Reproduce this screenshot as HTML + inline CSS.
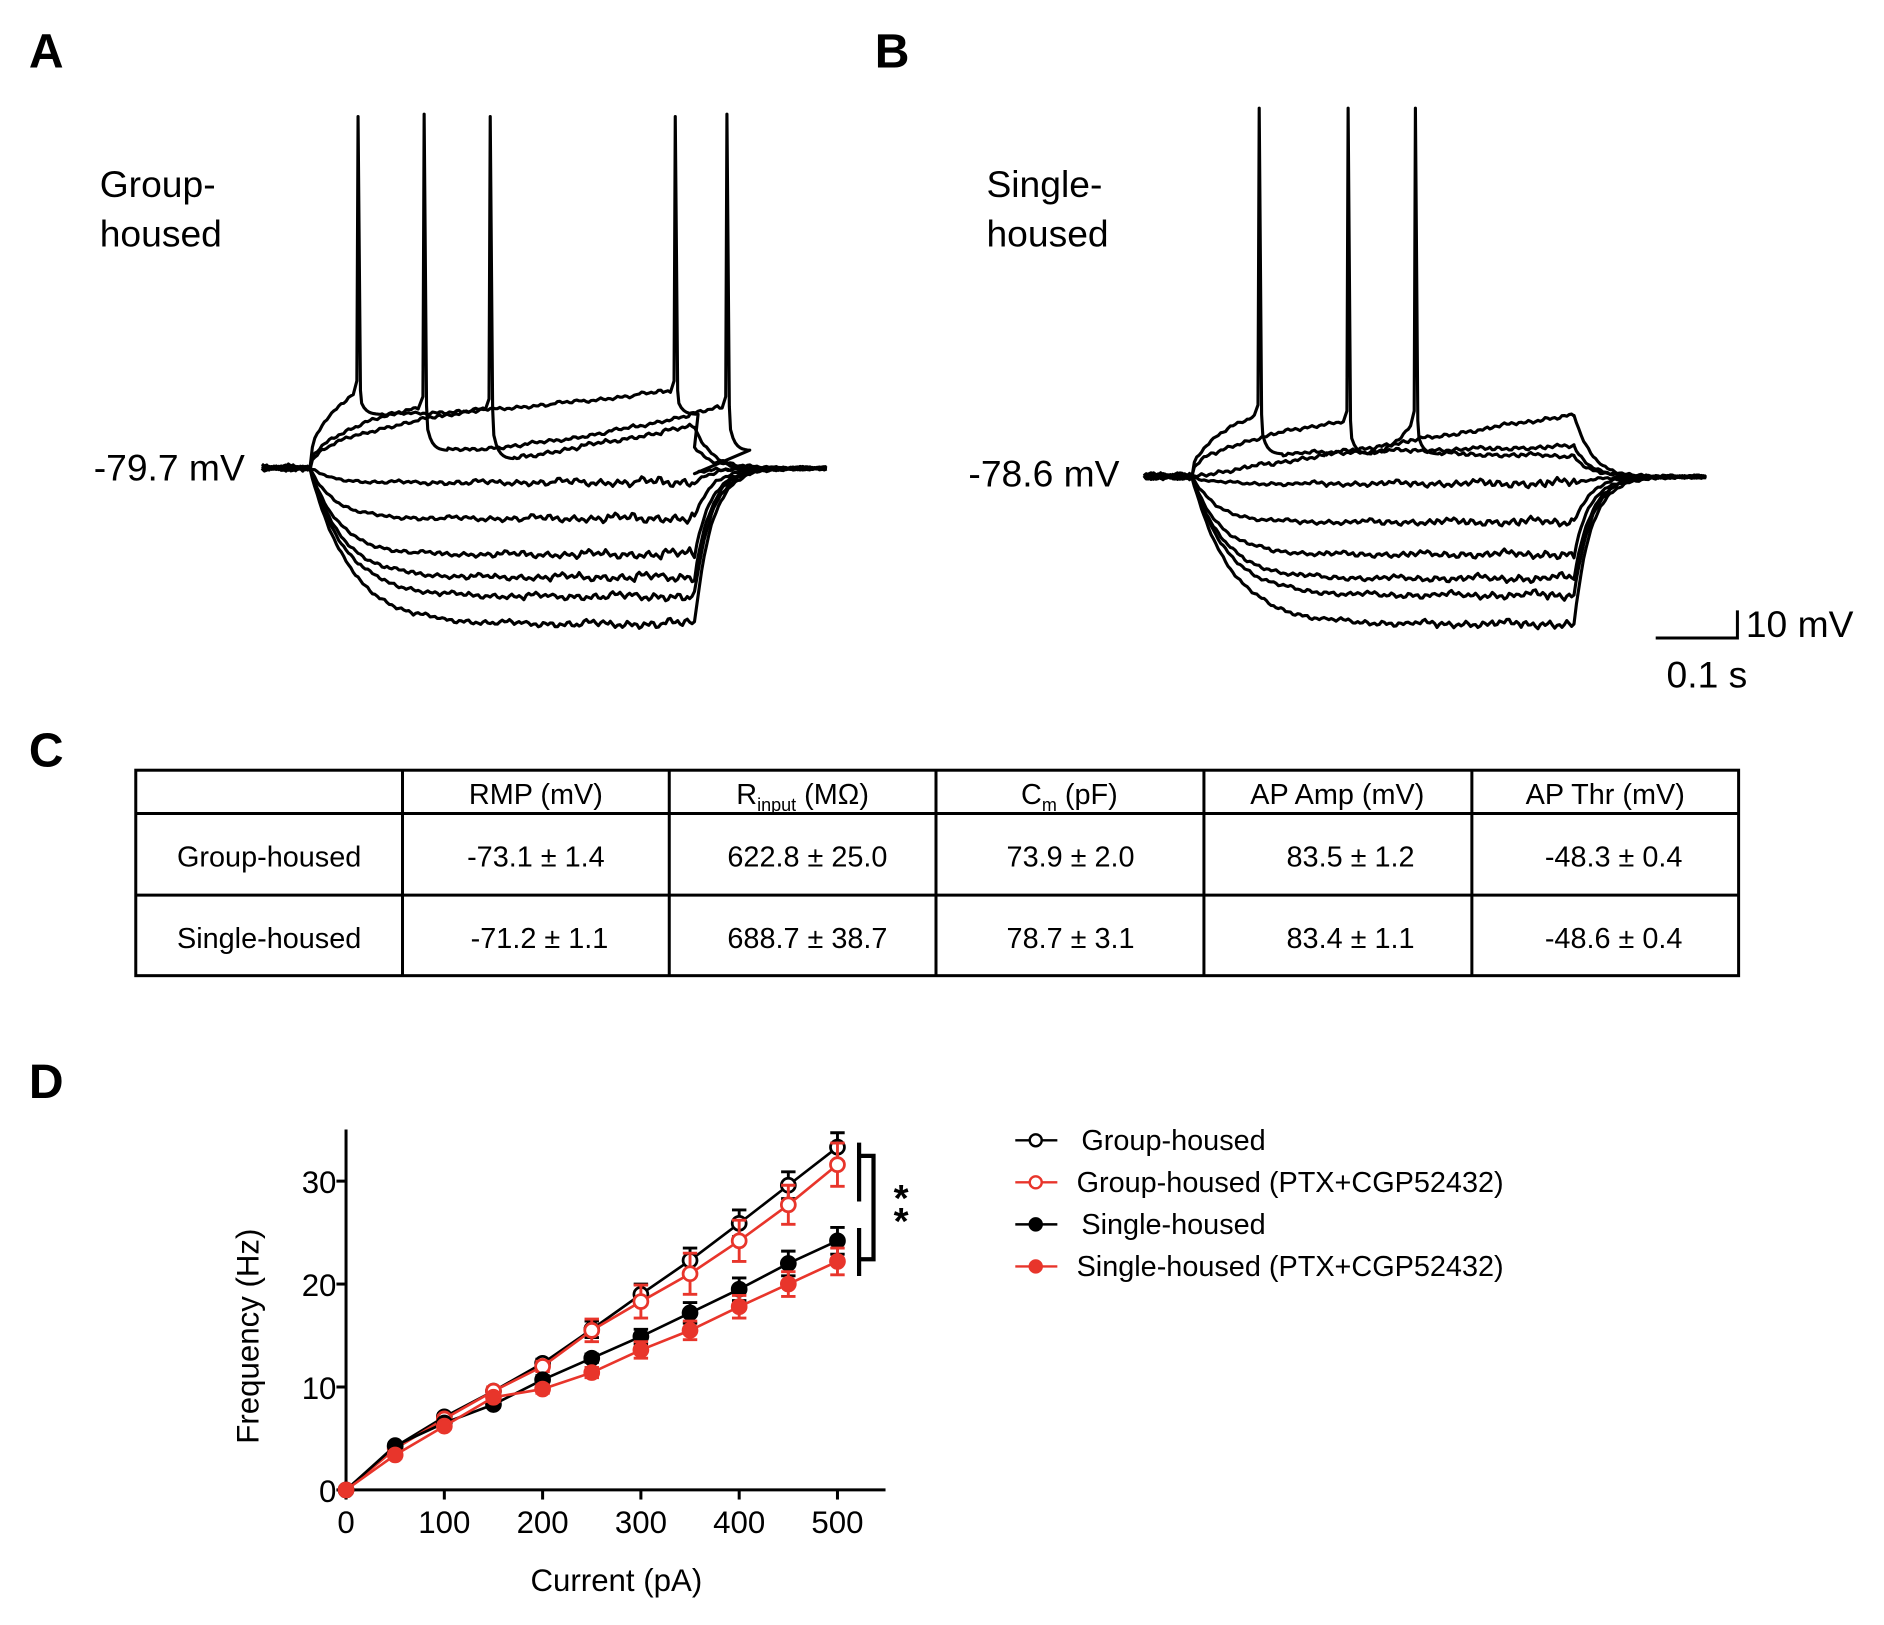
<!DOCTYPE html>
<html><head><meta charset="utf-8"><style>
html,body{margin:0;padding:0;background:#fff}
svg{display:block;font-family:"Liberation Sans",Arial,sans-serif}
</style></head><body>
<svg id="fig" width="1884" height="1625" viewBox="0 0 1568 1352.4" xmlns="http://www.w3.org/2000/svg">
<rect width="1568" height="1352.4" fill="#fff"/>
<g font-weight="bold" font-size="40" fill="#000">
<text x="24" y="56">A</text>
<text x="728" y="56">B</text>
<text x="24" y="638">C</text>
<text x="24" y="914">D</text>
</g>
<g font-size="31" fill="#000">
<text x="83" y="164">Group-</text>
<text x="83" y="205">housed</text>
<text x="821" y="164">Single-</text>
<text x="821" y="205">housed</text>
<text x="78" y="400">-79.7 mV</text>
<text x="806" y="405">-78.6 mV</text>
<text x="1453" y="530">10 mV</text>
<text x="1387" y="572">0.1 s</text>
</g>
<g id="traces" fill="none" stroke="#000" stroke-width="2.6" stroke-linejoin="round"></g>
<path d="M1378 531 H1446 V508" fill="none" stroke="#000" stroke-width="2.5"/>

<g font-size="24" fill="#000" text-anchor="middle">
<rect x="113" y="641" width="1334" height="171" fill="none" stroke="#000" stroke-width="2.5"/>
<path d="M113 677 H1447 M113 745 H1447 M335 641 V812 M557 641 V812 M779 641 V812 M1002 641 V812 M1225 641 V812" stroke="#000" stroke-width="2.5"/>
<text x="446" y="669">RMP (mV)</text>
<text x="668" y="669">R<tspan font-size="15" dy="6">input</tspan><tspan dy="-6"> (MΩ)</tspan></text>
<text x="890" y="669">C<tspan font-size="15" dy="6">m</tspan><tspan dy="-6"> (pF)</tspan></text>
<text x="1113" y="669">AP Amp (mV)</text>
<text x="1336" y="669">AP Thr (mV)</text>
<text x="224" y="721">Group-housed</text>
<text x="446" y="721">-73.1 ± 1.4</text>
<text x="672" y="721">622.8 ± 25.0</text>
<text x="891" y="721">73.9 ± 2.0</text>
<text x="1124" y="721">83.5 ± 1.2</text>
<text x="1343" y="721">-48.3 ± 0.4</text>
<text x="224" y="789">Single-housed</text>
<text x="449" y="789">-71.2 ± 1.1</text>
<text x="672" y="789">688.7 ± 38.7</text>
<text x="891" y="789">78.7 ± 3.1</text>
<text x="1124" y="789">83.4 ± 1.1</text>
<text x="1343" y="789">-48.6 ± 0.4</text>
</g>

<g id="chartD"></g>
</svg>
<script>
// ---- Panel D data ----
const currents = [0,50,100,150,200,250,300,350,400,450,500];
const groupVals = [0,4.2,7.1,9.6,12.3,15.6,19.0,22.3,25.9,29.6,33.3];
const groupErr = [0.2,0.3,0.3,0.3,0.4,0.8,1.0,1.2,1.3,1.3,1.4];
const groupPtxVals = [0,4.0,6.9,9.6,12.0,15.5,18.3,21.0,24.2,27.7,31.6];
const groupPtxErr = [0.2,0.3,0.3,0.4,0.5,1.1,1.6,2.0,2.0,1.9,2.1];
const singleVals = [0,4.3,6.5,8.3,10.7,12.8,14.9,17.2,19.5,22.0,24.2];
const singleErr = [0.2,0.3,0.3,0.3,0.4,0.4,0.7,1.0,1.1,1.2,1.3];
const singlePtxVals = [0,3.4,6.2,9.0,9.8,11.4,13.6,15.5,17.8,20.0,22.2];
const singlePtxErr = [0.2,0.3,0.3,0.4,0.4,0.5,0.8,0.9,1.1,1.2,1.3];
const xTicks = [0,100,200,300,400,500];
const yTicks = [0,10,20,30];
const legendLabels = ["Group-housed","Group-housed (PTX+CGP52432)","Single-housed","Single-housed (PTX+CGP52432)"];

const NS="http://www.w3.org/2000/svg";
const X0=288, XW=697-288, Y0=1240, YH=1240-983;
const xs=v=>X0+v/500*XW;
const ys=v=>Y0-v/30*YH;
const D=document.getElementById('chartD');
function mk(tag,attrs,parent){const e=document.createElementNS(NS,tag);for(const k in attrs)e.setAttribute(k,attrs[k]);(parent||D).appendChild(e);return e;}

let ax=mk('path',{d:`M${X0} 940 V${Y0} H737`,stroke:'#000','stroke-width':2.5,fill:'none'});


xTicks.forEach(t=>{
  let l=mk('line',{x1:xs(t),x2:xs(t),y1:Y0,y2:Y0+8,stroke:'#000','stroke-width':2.5});
  
  
  let tx=mk('text',{x:xs(t),y:Y0+36,'font-size':26,'text-anchor':'middle'});
  tx.textContent=t;
  
  
});
yTicks.forEach(t=>{
  let l=mk('line',{x1:X0-8,x2:X0,y1:ys(t),y2:ys(t),stroke:'#000','stroke-width':2.5});
  
  
  let tx=mk('text',{x:X0-8,y:ys(t)+10,'font-size':26,'text-anchor':'end'});
  tx.textContent=t;
  
  
});
let xt=mk('text',{x:513,y:1324,'font-size':26,'text-anchor':'middle'});xt.textContent='Current (pA)';


let yt=mk('text',{x:0,y:0,'font-size':26,'text-anchor':'middle',transform:'translate(215 1112) rotate(-90)'});yt.textContent='Frequency (Hz)';



const series=[
 {v:groupVals,e:groupErr,c:'#000',open:true,name:'group-housed'},
 {v:groupPtxVals,e:groupPtxErr,c:'#e8352b',open:true,name:'group-housed-ptx'},
 {v:singleVals,e:singleErr,c:'#000',open:false,name:'single-housed'},
 {v:singlePtxVals,e:singlePtxErr,c:'#e8352b',open:false,name:'single-housed-ptx'}];
series.forEach(s=>{
  const g=mk('g',{});
  
  
  let d=currents.map((c,i)=>(i?'L':'M')+xs(c)+' '+ys(s.v[i])).join(' ');
  mk('path',{d,stroke:s.c,'stroke-width':2.2,fill:'none'},g);
  currents.forEach((c,i)=>{
    const x=xs(c),y=ys(s.v[i]),e=s.e[i]/30*YH;
    let eb=mk('path',{d:`M${x} ${y-e} V${y+e} M${x-6} ${y-e} H${x+6} M${x-6} ${y+e} H${x+6}`,stroke:s.c,'stroke-width':2.4,fill:'none'},g);
    
    
    let p=mk('circle',{cx:x,cy:y,r:5.8,fill:s.open?'#fff':s.c,stroke:s.c,'stroke-width':2.3},g);
    
    
  });
});
let br=mk('path',{d:'M715 951 V1000 M715 962 H727 V1048 H715 M715 1022 V1062',stroke:'#000','stroke-width':3.5,fill:'none'});


[1008,1027].forEach(y=>{let a=mk('text',{x:750,y:y,'font-size':32,'font-weight':'bold','text-anchor':'middle'});a.textContent='*';

});
const legY=[949,984,1019,1054];
series.forEach((s,i)=>{
  const g=mk('g',{});
  
  
  mk('line',{x1:845,x2:880,y1:legY[i],y2:legY[i],stroke:s.c,'stroke-width':2},g);
  mk('circle',{cx:862,cy:legY[i],r:5,fill:s.open?'#fff':s.c,stroke:s.c,'stroke-width':2},g);
  let t=mk('text',{x:i%2?896:900,y:legY[i]+8,'font-size':24},g);t.textContent=legendLabels[i];
});

// ---- Voltage traces (illustrative) ----
const T=document.getElementById('traces');
function jit(x,k){return 1.6*Math.sin(x*0.9+k)+1.2*Math.sin(x*0.37+k*2)+((Math.floor(x/23+k)%3==0)?-2:0);}
function hyper(b,L,x0,x1,xe,tau,k,start){
  let pts=[];
  for(let x=start;x<=xe;x+=2){
    let v;
    if(x<x0)v=b+jit(x,k)*0.8;
    else if(x<=x1)v=b+(L-b)*(1-Math.exp(-(x-x0)/tau))+jit(x,k)*((x-x0)/(x1-x0+1)+0.3);
    else{const vl=b+(L-b)*(1-Math.exp(-(x1-x0)/tau));v=vl+(b-vl)*(1-Math.exp(-(x-x1)/14))+jit(x,k)*0.4;}
    pts.push([x,v]);
  }
  return pts;
}
function depol(b,x0,x1,xe,spikes,thr,trough,endV,top,k,start){
  let pts=[];
  for(let x=start;x<x0;x+=2)pts.push([x,b+jit(x,k)*0.8]);
  let prev=x0,prevV=b;
  spikes.forEach((s,j)=>{
    for(let x=prev;x<s-3;x+=2){const f=(x-prev)/(s-prev);const v=j==0?prevV+(thr-prevV)*Math.pow(f,0.45):prevV+(thr-prevV)*Math.pow(f,1.6);pts.push([x,v+jit(x,k)*0.5]);}
    pts.push([s-1,thr-8]);pts.push([s,top]);pts.push([s+2,thr]);
    for(let x=s+3;x<s+20;x+=2)pts.push([x,trough-(trough-thr)*Math.exp(-(x-s)/4)]);
    prev=s+20;prevV=trough;
  });
  for(let x=prev;x<=x1;x+=2){const f=(x-prev)/(x1-prev+1);pts.push([x,prevV+(endV-prevV)*f+jit(x,k)*0.6]);}
  for(let x=x1;x<=xe;x+=2)pts.push([x,endV+(b-endV)*(1-Math.exp(-(x-x1)/14))+jit(x,k)*0.4]);
  return pts;
}
function draw(pts,name){
  const p=document.createElementNS(NS,'path');
  p.setAttribute('d',pts.map((q,i)=>(i?'L':'M')+q[0].toFixed(1)+' '+q[1].toFixed(1)).join(' '));
  T.appendChild(p);
  
  
}
[[402,1],[432,2],[462,3],[481,4],[497,5],[520,6]].forEach(([L,k],i)=>draw(hyper(390,L,258,578,688,18+i*3,k,218),'trace-a-hyper'));
draw(depol(390,258,578,688,[298,562],325,345,372,97,1),'trace-a-spiking');
draw(depol(390,258,578,688,[353,605],338,375,395,95,2),'trace-a-spiking');
draw(depol(390,258,578,688,[408],340,382,355,97,3),'trace-a-spiking');
[[403,1],[435,2],[462,3],[482,4],[496,5],[520,6]].forEach(([L,k],i)=>draw(hyper(397,L,992,1310,1420,18+i*3,k,952),'trace-b-hyper'));
draw(depol(397,992,1310,1420,[1048],345,378,372,90,1),'trace-b-spiking');
draw(depol(397,992,1310,1420,[1122,1178],350,378,380,90,2),'trace-b-spiking');
draw(depol(397,992,1310,1420,[],350,370,345,90,3),'trace-b-subthreshold');
</script>
</body></html>
